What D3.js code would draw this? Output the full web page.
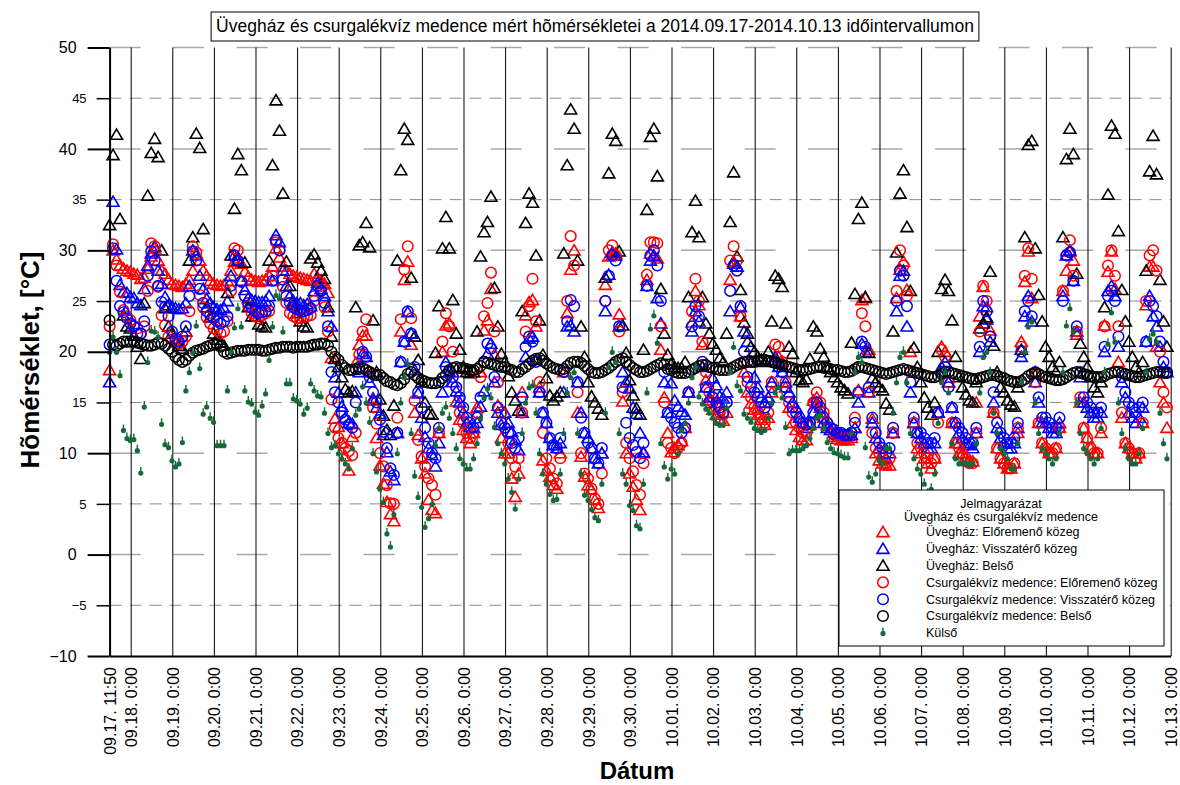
<!DOCTYPE html>
<html><head><meta charset="utf-8">
<script src="https://cdn.jsdelivr.net/npm/d3@7"></script>
<style>
body{margin:0;background:#fff}
svg{display:block;background:#fff}
text{font-family:"Liberation Sans",Arial,Helvetica,sans-serif}
</style>
</head><body>
<svg id="c" width="1180" height="785"></svg>
<script>
// ---------------- DATA ----------------
const chartTitle = "Üvegház és csurgalékvíz medence mért hõmérsékletei a 2014.09.17-2014.10.13 időintervallumon";
const yTitle = "Hõmérséklet, [°C]";
const xTitle = "Dátum";
const xTickLabels = ["09.17. 11:50","09.18. 0:00","09.19. 0:00","09.20. 0:00","09.21. 0:00","09.22. 0:00","09.23. 0:00","09.24. 0:00","09.25. 0:00","09.26. 0:00","09.27. 0:00","09.28. 0:00","09.29. 0:00","09.30. 0:00","10.01. 0:00","10.02. 0:00","10.03. 0:00","10.04. 0:00","10.05. 0:00","10.06. 0:00","10.07. 0:00","10.08. 0:00","10.09. 0:00","10.10. 0:00","10.11. 0:00","10.12. 0:00","10.13. 0:00"];
const yMajorTicks = [-10,0,10,20,30,40,50];
const yMinorTicks = [-5,5,15,25,35,45];
const legendTitle = ["Jelmagyarázat","Üvegház és csurgalékvíz medence"];
const seriesNames = ["Üvegház: Előremenő közeg","Üvegház: Visszatérő közeg","Üvegház: Belső","Csurgalékvíz medence: Előremenő közeg","Csurgalékvíz medence: Visszatérő közeg","Csurgalékvíz medence: Belső","Külső"];
// measurements every 2 hours from 09.17 11:50
const firstMeasurement = "2014.09.17. 11:50";
const stepHours = 2;

const uvegElore = [
18.2,30.0,29.1,28.5,28.2,28.0,
27.9,27.7,27.6,27.2,27.3,28.2,29.4,30.2,29.0,28.0,27.7,27.1,
26.7,26.6,26.5,26.4,26.7,27.1,28.0,29.7,29.0,28.0,27.5,27.0,
26.7,26.6,26.5,26.6,27.0,28.0,28.9,29.2,28.7,27.9,27.4,27.1,
27.0,26.9,27.0,27.1,27.5,28.4,30.2,29.3,28.4,28.0,27.7,27.5,
27.4,27.3,27.2,27.1,27.0,27.7,27.3,27.0,26.7,25.8,19.4,13.4,
12.6,11.0,9.7,8.3,11.6,18.9,20.7,21.6,21.6,18.0,15.2,11.5,
8.8,7.0,5.2,4.0,3.3,12.0,22.0,27.1,28.9,20.7,14.0,11.8,
9.5,8.0,5.4,4.4,4.1,12.0,20.0,22.6,22.8,18.0,15.1,13.3,
12.3,11.5,11.0,12.0,14.5,18.0,22.1,23.1,26.2,19.7,14.7,11.5,
10.0,10.0,7.5,5.7,8.0,16.0,23.6,24.9,25.1,22.5,16.5,9.3,
8.3,7.7,6.85,6.5,10.0,18.0,23.8,28.1,30.0,14.0,9.65,7.7,
6.85,6.4,5.4,4.6,10.0,26.6,29.4,29.5,29.7,23.7,15.1,10.0,
8.0,6.7,5.4,4.4,10.0,27.1,29.7,29.4,29.2,20.2,15.5,12.0,
10.1,10.5,10.8,11.2,12.5,16.0,22.9,26.0,24.6,20.7,17.2,15.2,
14.3,13.8,13.4,13.2,14.0,27.1,28.9,28.4,23.5,18.0,16.0,14.9,
14.3,13.8,13.3,12.8,13.5,16.0,19.2,19.5,19.0,16.5,14.5,13.0,
12.3,11.6,11.3,11.3,12.8,15.2,15.5,14.5,13.5,12.8,12.3,11.6,
11.4,11.3,11.3,11.3,11.5,12.5,16.2,25.1,25.3,20.2,13.4,10.0,
9.3,9.0,8.8,8.8,12.0,25.3,28.1,28.9,26.1,20.0,13.0,10.5,
10.0,9.5,9.0,8.5,9.5,14.0,20.5,20.0,17.0,13.0,11.0,10.0,
10.0,9.5,9.2,9.2,15.0,23.5,26.4,24.4,22.1,14.0,10.5,9.5,
9.0,8.5,8.5,9.0,12.0,21.0,26.9,29.9,25.3,18.0,13.0,11.0,
10.5,10.0,10.0,10.5,12.5,26.0,28.0,29.9,29.0,21.7,15.0,12.5,
11.5,10.5,10.0,10.0,12.0,22.6,27.9,29.9,26.2,19.0,13.5,11.0,
10.5,10.0,9.5,10.0,13.0,24.6,28.4,28.4,20.5,17.0,15.0,12.5];

const uvegVissza = [
17.0,34.8,30.1,26.6,25.9,25.8,
25.4,25.3,24.8,24.6,26.2,28.5,29.7,30.4,28.0,26.7,25.4,24.6,
24.4,24.3,24.2,24.3,24.8,26.5,30.0,29.5,27.5,26.2,25.2,24.8,
24.4,24.2,24.1,24.3,25.0,27.5,29.5,29.0,27.0,26.1,25.3,25.1,
25.0,24.9,24.9,25.0,25.5,27.0,31.5,30.8,28.0,26.5,25.5,25.0,
24.8,24.8,24.6,24.7,24.5,26.0,26.8,26.2,25.5,24.0,22.5,17.5,
16.0,14.6,13.5,13.0,12.9,16.0,18.0,19.8,19.5,17.0,15.4,14.5,
13.9,11.8,10.1,8.2,7.35,12.0,19.0,21.0,23.9,21.8,18.2,15.9,
13.5,11.6,10.5,9.8,8.7,11.0,16.0,19.0,18.0,17.0,16.1,15.0,
14.0,13.0,12.6,12.5,13.0,14.6,16.1,19.8,20.8,17.0,14.0,12.8,
14.0,13.0,12.1,11.3,10.3,14.0,19.5,21.3,21.5,19.2,16.0,14.0,
13.0,11.5,10.8,10.5,11.0,16.0,22.5,22.6,22.0,17.0,14.0,12.0,
11.5,10.5,9.5,9.0,10.0,24.0,27.6,29.8,29.5,22.5,18.0,17.0,
16.4,14.5,13.9,12.0,10.1,26.5,29.0,29.5,25.3,22.8,17.0,14.0,
16.9,15.2,14.6,14.1,13.8,16.0,22.0,24.0,23.0,18.5,16.5,15.5,
17.4,16.7,15.6,15.4,16.0,24.0,28.7,28.4,24.4,22.0,21.0,19.0,
17.5,16.5,15.5,15.0,15.5,17.0,19.5,18.5,18.0,17.0,16.0,15.0,
14.5,13.5,13.0,12.5,13.0,14.0,15.0,14.0,13.0,12.5,12.3,12.0,
11.8,11.8,11.7,11.7,11.8,12.5,15.0,20.8,20.0,16.0,13.0,11.5,
10.5,10.0,9.5,10.0,12.0,24.0,27.5,28.0,22.5,16.0,13.0,12.0,
11.5,11.0,10.5,10.5,11.0,14.0,18.5,19.0,17.0,14.5,13.0,12.0,
11.5,11.0,10.8,10.5,12.0,20.0,24.5,23.2,21.0,15.0,12.5,11.5,
11.0,10.5,10.5,11.0,12.5,19.5,23.5,25.5,23.0,17.0,15.0,13.0,
13.0,12.5,12.0,12.0,13.0,25.5,29.5,30.0,27.0,22.0,17.5,15.0,
14.5,14.0,13.5,13.5,14.0,20.0,26.0,26.5,25.5,20.5,17.0,15.5,
14.0,13.5,13.0,13.5,14.5,21.0,25.5,23.5,22.5,20.5,18.5,18.0];

const uvegBelso = [
32.5,39.4,41.4,33.1,23.6,22.5,
22.3,21.6,20.5,19.3,24.8,35.4,39.6,41.0,39.2,30.0,24.3,22.5,
21.8,21.0,20.6,20.3,22.0,29.0,31.3,41.5,40.1,32.1,24.4,23.4,
21.8,21.2,20.9,20.6,25.8,29.5,34.1,39.5,37.9,28.8,24.4,23.5,
23.5,22.7,22.5,22.4,29.0,38.4,44.8,41.8,35.6,28.9,26.5,24.6,
23.8,23.0,22.5,22.4,29.2,29.6,28.8,28.0,27.2,24.4,21.5,19.3,
18.5,17.5,16.3,16.0,16.1,24.4,30.5,30.8,32.7,30.3,23.1,18.0,
15.3,13.7,12.3,11.8,14.7,29.0,37.9,42.0,40.9,27.3,21.5,19.2,
17.0,15.0,13.9,13.8,19.9,24.5,30.2,33.3,30.2,25.1,21.8,20.2,
18.5,18.0,17.9,18.0,22.0,29.4,31.8,32.8,35.3,26.3,22.5,19.8,
19.0,17.6,16.0,15.2,14.2,24.0,32.7,35.6,34.7,29.5,23.1,19.7,
17.4,15.7,15.2,15.6,16.0,29.7,38.4,43.9,42.0,29.0,22.5,19.5,
17.0,15.6,15.0,14.4,13.8,27.3,37.6,41.5,40.8,29.9,22.6,19.9,
17.2,15.7,14.4,13.8,20.2,34.0,41.2,42.0,37.3,26.2,21.8,19.7,
18.8,18.5,18.4,18.4,19.0,25.4,31.8,34.9,31.3,25.4,22.8,21.8,
20.8,20.2,19.4,19.0,21.8,32.8,37.7,29.4,26.1,22.9,21.8,20.5,
20.0,19.5,19.2,19.0,20.0,23.0,27.5,27.2,26.4,22.8,20.5,19.8,
18.0,17.2,17.0,17.3,19.3,22.5,22.0,20.3,19.5,18.5,18.0,17.5,
17.0,16.5,16.2,15.9,20.9,25.7,33.1,34.7,25.4,19.9,17.4,17.0,
16.5,16.2,14.9,14.3,22.0,29.8,35.6,37.9,32.3,26.0,20.4,18.5,
17.0,15.5,14.5,13.8,15.0,20.0,26.2,27.1,26.0,23.1,19.5,17.5,
16.5,15.8,15.2,15.0,17.0,22.3,22.8,23.4,27.9,20.6,18.0,16.5,
16.0,15.2,14.8,14.6,16.5,20.2,31.3,40.4,40.8,30.2,25.6,23.0,
20.5,19.5,18.5,18.0,19.0,31.3,39.0,42.0,39.5,27.7,20.8,19.5,
18.5,17.5,16.5,16.0,17.0,24.4,35.5,42.3,41.5,31.9,26.1,23.0,
21.0,19.5,18.5,18.0,19.0,28.0,37.8,41.3,37.5,27.1,23.0,20.5];

const medenceElore = [
22.5,30.6,28.5,25.9,24.1,23.5,
23.1,22.5,22.3,21.8,22.5,26.0,30.7,30.4,26.4,23.6,22.6,21.5,
21.2,21.0,20.8,21.0,21.5,24.0,30.4,29.8,25.6,24.4,23.4,22.8,
22.3,22.1,21.8,22.0,23.0,26.0,30.2,30.0,26.9,25.5,24.5,23.8,
23.5,23.3,23.6,23.8,24.0,27.5,30.8,30.0,26.4,24.8,23.8,23.5,
23.3,23.3,23.4,23.5,23.6,25.0,27.0,26.5,24.4,22.0,15.3,12.5,
11.5,11.0,10.5,10.2,9.8,12.0,19.7,22.0,23.2,18.0,14.5,12.9,
10.0,8.7,6.85,5.05,5.0,13.5,23.2,28.1,30.4,23.3,15.2,11.3,
9.7,8.7,7.5,6.85,5.9,12.0,21.0,23.8,22.5,20.0,16.5,14.0,
13.0,12.0,11.5,12.0,14.0,17.5,23.5,24.8,27.8,22.0,17.0,14.0,
12.5,11.0,9.5,8.66,9.5,14.0,22.0,24.5,27.2,23.0,17.0,12.0,
9.5,8.5,7.5,7.0,9.5,18.0,25.0,31.4,28.5,16.0,10.0,8.0,
7.5,6.5,5.5,5.0,8.0,25.0,30.0,30.5,29.5,22.0,16.0,11.0,
9.5,8.2,6.85,5.9,9.0,27.6,30.8,30.8,30.7,22.5,15.0,11.0,
10.5,10.0,10.5,11.0,12.5,16.0,24.0,27.2,25.0,21.0,18.0,16.0,
15.0,14.5,14.0,13.8,15.0,29.0,30.4,29.0,23.5,19.0,17.0,15.5,
14.5,14.0,13.5,13.0,14.0,17.0,20.7,20.5,19.0,17.0,15.0,14.0,
13.0,12.5,12.0,12.0,13.0,15.0,16.0,15.0,14.0,13.0,12.5,12.0,
11.8,11.5,11.5,11.5,12.0,13.5,18.5,23.8,22.5,16.0,12.0,10.5,
10.0,9.5,9.0,9.5,12.0,26.0,30.0,28.5,25.5,18.0,13.0,11.0,
10.5,10.0,9.5,9.0,9.5,13.0,20.2,19.5,17.0,13.0,11.0,10.5,
10.0,9.5,9.0,9.0,12.0,22.0,26.5,25.0,21.5,14.0,10.5,9.5,
9.0,8.5,8.5,9.0,12.5,20.5,27.5,30.2,27.2,17.0,13.0,11.0,
10.5,10.0,10.0,10.5,12.5,26.0,29.5,31.0,27.5,22.0,15.5,12.5,
11.5,10.5,10.0,10.0,12.5,22.5,28.5,30.0,27.5,22.5,14.0,11.0,
10.5,10.0,9.5,10.0,13.0,25.0,29.5,30.0,28.0,20.0,16.0,14.5];

const medenceVissza = [
20.7,30.2,27.0,24.5,23.9,23.3,
22.8,22.5,21.8,21.8,23.0,27.5,29.9,29.0,26.5,24.9,24.4,23.5,
22.0,21.3,21.0,21.5,22.5,25.5,29.9,29.0,26.2,24.8,24.0,23.6,
23.3,23.0,22.8,23.0,23.5,26.5,29.5,29.0,26.9,25.5,24.8,24.3,
24.0,23.8,23.9,24.0,24.5,27.0,31.0,30.0,27.1,25.5,24.8,24.4,
24.2,24.1,24.0,24.1,24.3,25.5,26.5,26.0,24.8,22.5,18.0,16.0,
15.0,14.0,13.3,12.8,12.5,15.0,18.5,20.0,19.5,17.5,16.0,15.0,
13.3,12.1,10.5,8.5,7.85,12.0,19.0,21.0,24.0,21.8,18.5,16.0,
14.5,12.5,11.0,10.0,9.5,12.5,17.0,18.5,18.0,17.5,16.5,15.5,
14.5,13.5,13.0,12.5,13.5,15.5,19.0,20.8,20.3,17.5,14.5,13.0,
12.5,12.0,11.0,10.5,11.5,15.5,20.5,21.5,21.0,19.0,16.0,14.0,
13.0,11.5,10.8,10.5,11.5,18.0,23.0,25.1,24.5,17.0,13.5,12.0,
11.0,10.5,9.5,9.0,10.5,25.0,27.5,29.5,29.0,22.5,16.5,13.0,
11.5,10.8,10.1,9.5,11.0,26.5,29.5,30.0,28.5,25.0,18.0,14.0,
13.5,13.0,12.5,12.0,12.5,16.0,22.5,24.5,23.5,19.0,16.5,15.0,
15.5,15.0,14.5,14.0,15.0,26.0,28.5,28.0,24.5,20.0,17.5,16.5,
16.0,15.5,15.0,14.5,15.0,16.5,19.0,18.5,18.0,16.5,15.5,14.5,
14.0,13.5,13.0,12.8,13.0,14.0,15.0,14.5,13.5,13.0,12.5,12.3,
12.0,12.0,11.8,11.8,12.0,13.0,16.0,21.0,20.5,16.5,13.5,12.0,
11.0,10.5,10.0,10.5,12.5,25.0,28.0,27.5,24.5,17.0,13.5,12.0,
12.0,11.5,11.0,11.0,11.5,14.0,18.0,18.5,16.5,14.5,13.0,12.5,
12.0,11.5,11.0,11.0,12.5,20.5,25.0,24.0,21.5,16.0,13.0,12.0,
11.5,11.0,11.0,11.5,13.0,20.0,24.0,25.0,23.5,18.0,15.5,13.5,
13.5,13.0,12.5,12.5,13.5,25.0,29.5,29.8,27.0,22.5,18.0,15.5,
15.0,14.5,14.0,14.0,14.5,20.5,25.5,26.0,25.0,21.5,17.5,16.0,
15.0,14.5,14.0,14.5,15.0,21.0,25.0,24.5,23.5,21.0,19.0,18.0];

const medenceBelso = [
23.1,20.7,20.6,20.8,21.0,21.0,
21.0,21.0,20.9,20.8,20.7,20.6,20.6,20.7,20.9,20.8,20.6,20.3,
20.0,19.5,19.2,19.0,19.2,19.6,19.9,20.1,20.2,20.3,20.5,20.6,
20.7,20.7,20.5,20.0,19.8,19.9,20.0,20.1,20.1,20.1,20.2,20.2,
20.2,20.2,20.1,20.1,20.2,20.3,20.4,20.4,20.5,20.5,20.5,20.4,
20.5,20.5,20.5,20.5,20.6,20.7,20.7,20.8,20.8,20.6,20.0,19.5,
19.2,18.7,18.4,18.2,18.2,18.3,18.3,18.4,18.2,18.0,17.8,17.7,
17.7,17.4,17.1,17.0,16.8,16.7,16.9,17.3,17.8,18.0,17.7,17.4,
17.2,17.05,16.95,16.9,16.9,17.0,17.4,17.7,18.2,18.4,18.5,18.4,
18.4,18.3,18.2,18.2,18.3,18.6,19.0,18.9,18.8,18.7,18.6,18.5,
18.5,18.3,18.2,18.0,18.0,18.3,18.5,18.8,19.1,19.3,19.35,19.1,
18.85,18.6,18.4,18.3,18.2,18.3,18.6,18.9,19.0,19.0,18.9,18.6,
18.3,18.0,17.9,17.9,18.0,18.2,18.4,18.7,19.0,19.2,19.35,19.0,
18.7,18.4,18.2,18.0,18.0,18.1,18.3,18.5,18.7,18.85,18.7,18.3,
18.2,18.0,17.9,17.9,17.9,18.0,18.2,18.4,18.6,18.7,18.7,18.5,
18.4,18.3,18.2,18.2,18.2,18.3,18.5,18.7,18.85,18.9,19.0,19.0,
19.0,19.1,19.2,19.2,19.1,19.0,18.9,18.8,18.7,18.6,18.5,18.4,
18.3,18.2,18.2,18.2,18.3,18.4,18.5,18.5,18.4,18.4,18.3,18.2,
18.2,18.1,18.0,18.0,18.1,18.3,18.5,18.5,18.4,18.3,18.2,18.1,
18.0,17.9,17.8,17.9,18.0,18.1,18.2,18.3,18.2,18.1,18.0,17.9,
17.8,17.7,17.6,17.5,17.5,17.6,17.8,18.0,18.0,17.9,17.8,17.7,
17.6,17.5,17.4,17.3,17.3,17.4,17.5,17.6,17.7,17.7,17.6,17.5,
17.4,17.2,17.1,17.0,17.0,17.1,17.3,17.6,17.8,17.9,17.8,17.6,
17.5,17.4,17.3,17.2,17.2,17.3,17.5,17.7,17.9,18.0,17.9,17.8,
17.7,17.6,17.5,17.5,17.5,17.6,17.8,17.9,18.0,18.0,17.9,17.8,
17.7,17.6,17.5,17.5,17.6,17.7,17.8,17.9,18.0,18.0,17.9,17.9];

const kulso = [
20.0,21.5,20.0,17.7,12.3,11.5,
11.3,11.4,10.3,8.1,14.6,19.0,22.1,22.0,21.5,12.9,10.9,10.6,
9.3,8.7,9.0,11.1,16.2,18.0,19.9,22.6,18.4,13.9,14.6,13.5,
13.1,10.8,10.8,10.8,16.2,20.0,22.4,24.3,22.5,16.2,15.1,14.9,
14.1,13.8,14.7,15.9,19.2,22.5,25.6,25.3,22.0,16.9,16.9,15.4,
15.2,14.9,13.9,14.5,16.9,16.2,15.7,15.6,14.0,12.0,10.6,10.8,
10.0,9.5,9.0,8.5,10.5,13.8,14.4,16.6,15.0,13.1,10.0,8.2,
6.5,5.2,2.1,0.8,4.0,10.0,15.0,17.5,18.85,12.0,7.8,5.7,
4.7,2.75,3.6,5.0,10.8,12.5,14.0,14.6,13.5,12.0,10.5,9.5,
9.0,8.5,8.5,9.5,11.0,13.5,15.5,16.4,15.5,12.6,11.0,10.0,
9.0,7.5,6.2,4.55,7.5,12.0,15.0,16.5,16.7,14.0,10.0,8.0,
7.0,6.0,5.4,5.5,8.0,12.0,16.0,17.5,18.0,12.0,8.0,5.9,
5.4,4.5,3.7,3.4,7.0,14.0,18.5,20.0,19.0,12.0,8.0,7.0,
4.9,4.4,2.9,2.6,7.0,16.0,22.3,23.6,20.9,11.0,8.7,7.5,
8.5,8.0,10.0,12.3,13.0,15.0,17.5,18.5,15.6,14.9,14.4,14.0,
13.5,13.0,12.8,12.8,14.5,18.0,20.5,16.7,16.2,13.9,13.5,13.1,
12.5,12.3,12.1,12.3,13.5,15.0,16.0,16.5,15.5,12.6,10.0,10.3,
10.3,10.3,10.5,10.8,11.5,12.5,13.5,13.8,12.5,11.1,10.5,10.1,
10.0,9.8,9.6,9.6,12.0,18.0,19.5,19.0,10.6,7.7,7.2,8.0,
9.3,9.0,10.5,10.5,14.0,17.0,19.5,20.0,17.0,12.0,9.5,8.5,
8.0,7.0,6.0,6.5,8.0,13.0,17.0,18.0,16.0,11.0,9.5,9.0,
9.0,9.0,8.8,9.0,11.0,16.0,19.5,20.0,18.0,14.0,12.0,10.5,
10.0,9.5,8.5,8.5,11.0,17.0,20.0,22.5,23.0,15.0,12.0,10.5,
10.0,9.5,9.0,9.5,12.0,18.0,22.6,24.3,22.0,15.0,12.0,10.5,
10.0,9.5,9.0,9.5,12.5,18.0,20.8,23.9,21.0,15.0,12.0,10.5,
9.5,9.0,9.0,10.0,12.5,18.0,21.3,21.8,21.0,14.0,11.0,9.5];

// ---------------- CHART ----------------
const svg = d3.select("#c");
const X0 = 109.6, X1 = 1170.7, Y0 = 656, Y1 = 47.5;
const parse = d3.timeParse("%Y.%m.%d. %H:%M");
const tickDates = xTickLabels.map(l => parse("2014." + l));
const t0 = parse(firstMeasurement);
const x = d3.scaleTime().domain([tickDates[0], tickDates[tickDates.length - 1]]).range([X0, X1]);
const y = d3.scaleLinear().domain([-10, 50]).range([Y0, Y1]);
const timeAt = i => new Date(+t0 + i * stepHours * 3600e3);

svg.append("rect").attr("width",1180).attr("height",785).attr("fill","#fff");

// horizontal grid
const grid = svg.append("g");
grid.selectAll("line.maj").data(yMajorTicks.filter(v => v > -10)).join("line")
  .attr("x1", X0).attr("x2", X1).attr("y1", d => y(d)).attr("y2", d => y(d))
  .attr("stroke", "#a8a8a8").attr("stroke-width", 1.5).attr("stroke-dasharray", "31,32.5");
grid.selectAll("line.min").data(yMinorTicks).join("line")
  .attr("x1", X0).attr("x2", X1).attr("y1", d => y(d)).attr("y2", d => y(d))
  .attr("stroke", "#8a8a8a").attr("stroke-width", 1).attr("stroke-dasharray", "12,8");

// x axis with full-height day lines
const xAxis = d3.axisBottom(x).tickValues(tickDates).tickFormat((d, i) => xTickLabels[i])
  .tickSize(-(Y0 - Y1)).tickSizeOuter(0).tickPadding(0);
const gx = svg.append("g").attr("transform", `translate(0,${Y0})`).call(xAxis);
gx.attr("font-size", null).attr("font-family", null);
gx.select(".domain").attr("stroke", "#000").attr("stroke-width", 2);
gx.selectAll(".tick line").attr("stroke", "#000").attr("stroke-width", 1);
gx.selectAll(".tick text").attr("transform", "rotate(-90)").attr("x", -11).attr("y", 0)
  .attr("dy", "0.36em").attr("text-anchor", "end").attr("fill", "#000").style("font-size", "16px");

// markers
const tri = "M0,-5.6L6,4.6L-6,4.6Z";
const drop = "M-0.7,-5.4h1.4v3.8h-1.4Z M2.6,0.6A2.6,2.6 0 1,1 -2.6,0.6A2.6,2.6 0 1,1 2.6,0.6Z";
const series = [
  {vals: uvegElore, shape: "tri", color: "#ff0000"},
  {vals: uvegVissza, shape: "tri", color: "#0000ff"},
  {vals: uvegBelso, shape: "tri", color: "#000000"},
  {vals: medenceElore, shape: "circ", color: "#ff0000"},
  {vals: medenceVissza, shape: "circ", color: "#0000ff"},
  {vals: medenceBelso, shape: "circ", color: "#000000"},
  {vals: kulso, shape: "drop", color: "#17693a"}
];
function drawSymbol(sel, s) {
  if (s.shape === "tri") sel.append("path").attr("d", tri).attr("fill", "none").attr("stroke", s.color).attr("stroke-width", 1.6);
  else if (s.shape === "circ") sel.append("circle").attr("r", 5.3).attr("fill", "none").attr("stroke", s.color).attr("stroke-width", 1.5);
  else sel.append("path").attr("d", drop).attr("fill", s.color);
}
const gm = svg.append("g");
series.forEach(s => {
  const g = gm.append("g");
  g.selectAll("g").data(s.vals.map((v, i) => ({t: timeAt(i), v}))).join("g")
    .attr("transform", d => `translate(${x(d.t)},${y(d.v)})`)
    .each(function() { drawSymbol(d3.select(this), s); });
});

// y axis (major + minor)
const gyMaj = svg.append("g").attr("transform", `translate(${X0},0)`)
  .call(d3.axisLeft(y).tickValues(yMajorTicks).tickSize(22).tickSizeOuter(0).tickPadding(11).tickFormat(d3.format("d")));
gyMaj.attr("font-size", null).attr("font-family", null);
gyMaj.select(".domain").attr("stroke", "#000").attr("stroke-width", 2);
gyMaj.selectAll(".tick line").attr("stroke", "#000").attr("stroke-width", 2);
gyMaj.selectAll(".tick text").attr("fill", "#000").style("font-size", "16px");
const gyMin = svg.append("g").attr("transform", `translate(${X0},0)`)
  .call(d3.axisLeft(y).tickValues(yMinorTicks).tickSize(13).tickSizeOuter(0).tickPadding(10).tickFormat(d3.format("d")));
gyMin.attr("font-size", null).attr("font-family", null);
gyMin.select(".domain").remove();
gyMin.selectAll(".tick line").attr("stroke", "#000").attr("stroke-width", 1.5);
gyMin.selectAll(".tick text").attr("fill", "#000").style("font-size", "13px");

// axis titles
svg.append("text").attr("transform", "translate(39,360) rotate(-90)").attr("text-anchor", "middle")
  .style("font-size", "26px").style("font-weight", "bold").text(yTitle);
svg.append("text").attr("x", 637).attr("y", 779).attr("text-anchor", "middle")
  .style("font-size", "24px").style("font-weight", "bold").text(xTitle);

// title box
const titleG = svg.append("g");
const titleRect = titleG.append("rect");
const tt = titleG.append("text").attr("x", 595).attr("y", 32).attr("text-anchor", "middle")
  .style("font-size", "17.5px").text(chartTitle);
const bb = tt.node().getBBox();
titleRect.attr("x", bb.x - 5).attr("y", 12).attr("width", bb.width + 10).attr("height", 29)
  .attr("fill", "#fff").attr("stroke", "#000").attr("stroke-width", 1);

// legend
const lg = svg.append("g");
lg.append("rect").attr("x", 839).attr("y", 490).attr("width", 325).attr("height", 156)
  .attr("fill", "#fff").attr("stroke", "#000").attr("stroke-width", 1);
legendTitle.forEach((t, i) => lg.append("text").attr("x", 1001).attr("y", 508 + i * 12.5)
  .attr("text-anchor", "middle").style("font-size", "12.5px").text(t));
series.forEach((s, i) => {
  const yy = 532 + i * 16.8;
  const g = lg.append("g").attr("transform", `translate(883,${yy})`);
  drawSymbol(g, s);
  lg.append("text").attr("x", 926).attr("y", yy + 4.4).style("font-size", "12.5px").text(seriesNames[i]);
});
</script>
</body></html>
